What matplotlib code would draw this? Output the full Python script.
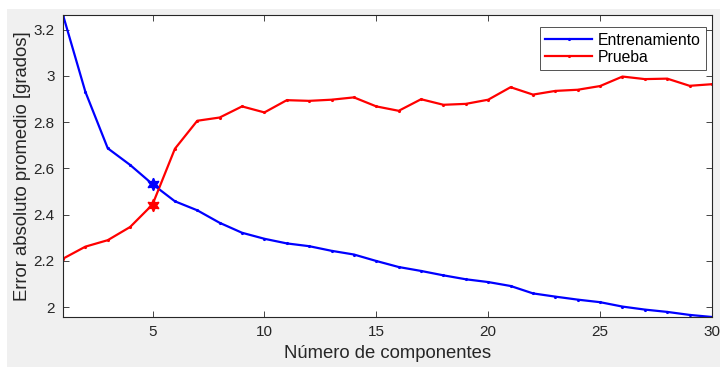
import matplotlib
matplotlib.use("Agg")
import matplotlib.pyplot as plt
from matplotlib.patches import Rectangle

plt.rcParams['font.family'] = ['Liberation Sans', 'DejaVu Sans']

componentes = list(range(1, 31))
entrenamiento = [3.263, 2.931, 2.687, 2.615, 2.532, 2.458, 2.419, 2.365, 2.322, 2.296,
                 2.276, 2.264, 2.244, 2.228, 2.200, 2.174, 2.157, 2.138, 2.121, 2.109,
                 2.092, 2.060, 2.046, 2.033, 2.022, 2.003, 1.990, 1.980, 1.967, 1.958]
prueba = [2.210, 2.262, 2.290, 2.347, 2.444, 2.685, 2.806, 2.820, 2.868, 2.842,
          2.895, 2.892, 2.897, 2.907, 2.868, 2.849, 2.899, 2.875, 2.879, 2.897,
          2.951, 2.919, 2.935, 2.940, 2.956, 2.997, 2.986, 2.988, 2.957, 2.964]
sel = 5
xticks = [5, 10, 15, 20, 25, 30]
yticks = [2, 2.2, 2.4, 2.6, 2.8, 3, 3.2]
ytick_labels = ['2', '2.2', '2.4', '2.6', '2.8', '3', '3.2']

W, H = 720, 367
fig = plt.figure(figsize=(W / 100, H / 100), dpi=100, facecolor='white')
fig.patches.append(Rectangle((7 / W, 0), 1 - 7 / W, 1 - 9 / H, transform=fig.transFigure,
                             facecolor='#f0f0f0', edgecolor='none', zorder=-10))

ax = fig.add_axes([63 / W, 1 - 317 / H, (712 - 63) / W, (317 - 15) / H])
ax.set_facecolor('white')

ax.plot(componentes, entrenamiento, color='blue', lw=1.6, marker='.', ms=2.5,
        label='Entrenamiento')
ax.plot(componentes, prueba, color='red', lw=1.6, marker='.', ms=2.5, label='Prueba')
i = componentes.index(sel)
ax.plot(sel, entrenamiento[i], color='blue', marker=(6, 1, 0), ms=9, ls='none')
ax.plot(sel, prueba[i], color='red', marker=(6, 1, 0), ms=9, ls='none')

ax.set_xlim(1, 30)
ax.set_ylim(min(entrenamiento), max(entrenamiento))
ax.set_xticks(xticks)
ax.set_yticks(yticks)
ax.set_yticklabels(ytick_labels)

edge = '#262626'
for s in ax.spines.values():
    s.set_color(edge)
    s.set_linewidth(0.8)
ax.tick_params(direction='in', length=4, width=0.6, color=edge, labelcolor=edge,
               labelsize=11, top=True, right=True, pad=6)

ax.set_xlabel('Número de componentes', fontsize=13.3, color=edge, labelpad=4)
ax.set_ylabel('Error absoluto promedio [grados]', fontsize=13.3, color=edge, labelpad=2)

leg = ax.legend(loc='upper right', fontsize=11.3, frameon=True, fancybox=False,
                edgecolor=edge, handlelength=3.0, borderpad=0.35, labelspacing=0.15,
                handletextpad=0.35, borderaxespad=0, bbox_to_anchor=(0.991, 0.960))
leg.get_frame().set_linewidth(0.7)

fig.savefig('out.png', dpi=100, facecolor=fig.get_facecolor())
